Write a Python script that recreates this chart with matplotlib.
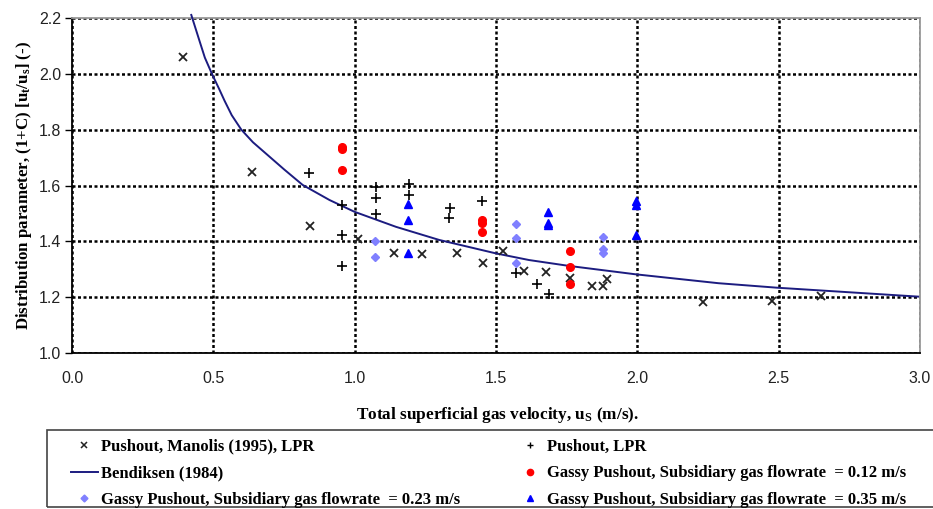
import matplotlib
matplotlib.use("Agg")
import matplotlib.pyplot as plt
from matplotlib.lines import Line2D
from matplotlib.patches import Rectangle

# ---------------- data ----------------
manolis_x = [0.393, 0.638, 0.843, 1.011, 1.140, 1.237, 1.361, 1.455, 1.525, 1.600,
             1.676, 1.763, 1.840, 1.880, 1.894, 2.232, 2.476, 2.648]
manolis_y = [2.062, 1.650, 1.456, 1.410, 1.357, 1.355, 1.360, 1.324, 1.367, 1.293,
             1.289, 1.270, 1.240, 1.240, 1.266, 1.182, 1.187, 1.205]

pushout_x = [0.838, 0.955, 0.955, 0.955, 1.075, 1.075, 1.075, 1.191, 1.191, 1.337,
             1.332, 1.450, 1.570, 1.646, 1.687]
pushout_y = [1.644, 1.529, 1.422, 1.313, 1.596, 1.556, 1.497, 1.605, 1.567, 1.520,
             1.483, 1.546, 1.288, 1.246, 1.212]

gas012_x = [0.954, 0.954, 0.954, 1.450, 1.450, 1.450, 1.763, 1.763, 1.763]
gas012_y = [1.739, 1.730, 1.655, 1.476, 1.467, 1.433, 1.367, 1.309, 1.247]

gas023_x = [1.072, 1.072, 1.570, 1.570, 1.570, 1.879, 1.879, 1.879]
gas023_y = [1.401, 1.345, 1.462, 1.411, 1.324, 1.415, 1.372, 1.360]

gas035_x = [1.187, 1.187, 1.187, 1.685, 1.685, 1.685, 1.997, 1.997, 1.997]
gas035_y = [1.534, 1.477, 1.360, 1.506, 1.467, 1.459, 1.545, 1.530, 1.422]

bend_x = [0.422, 0.452, 0.470, 0.495, 0.520, 0.540, 0.565, 0.599, 0.640, 0.699,
          0.750, 0.816, 0.911, 0.999, 1.146, 1.299, 1.499, 1.617, 1.758, 1.993,
          2.287, 2.493, 2.993]
bend_y = [2.211, 2.115, 2.058, 2.000, 1.947, 1.903, 1.852, 1.800, 1.755, 1.703,
          1.658, 1.602, 1.548, 1.506, 1.452, 1.405, 1.357, 1.333, 1.312, 1.282,
          1.250, 1.234, 1.202]

x_ticks = [0.0, 0.5, 1.0, 1.5, 2.0, 2.5, 3.0]
y_ticks = [1.0, 1.2, 1.4, 1.6, 1.8, 2.0, 2.2]

labels = ["Pushout, Manolis (1995), LPR", "Bendiksen (1984)",
          "Gassy Pushout, Subsidiary gas flowrate  = 0.23 m/s",
          "Pushout, LPR", "Gassy Pushout, Subsidiary gas flowrate  = 0.12 m/s",
          "Gassy Pushout, Subsidiary gas flowrate  = 0.35 m/s"]

# ---------------- style ----------------
plt.rcParams['mathtext.fontset'] = 'custom'
plt.rcParams['mathtext.rm'] = 'Liberation Serif'
plt.rcParams['mathtext.bf'] = 'Liberation Serif:bold'
plt.rcParams['mathtext.it'] = 'Liberation Serif:italic:bold'

W, H = 933, 509
fig = plt.figure(figsize=(W / 100, H / 100), dpi=100)
ax = fig.add_axes([72 / W, 1 - 353 / H, (920 - 72) / W, (353 - 18) / H])

col_man = '#222222'
col_red = '#ff0000'
col_lb = '#8080ff'
col_blue = '#0000ff'
col_line = '#1c1c80'

ax.plot(bend_x, bend_y, color=col_line, lw=1.4, zorder=4, clip_on=False,
        solid_joinstyle='round')
ax.plot(manolis_x, manolis_y, ls='none', marker='x', ms=5.5, mew=1.3, color=col_man, zorder=5)
ax.plot(pushout_x, pushout_y, ls='none', marker='+', ms=7.5, mew=1.2, color='black', zorder=5)
ax.plot(gas012_x, gas012_y, ls='none', marker='o', ms=5.5, color=col_red, mec=col_red, zorder=5)
ax.plot(gas023_x, gas023_y, ls='none', marker='D', ms=4.3, color=col_lb, mec=col_lb, zorder=5)
ax.plot(gas035_x, gas035_y, ls='none', marker='^', ms=6, color=col_blue, mec=col_blue, zorder=5)

ax.set_xlim(0, 3.0)
ax.set_ylim(1.0, 2.2)
ax.set_xticks(x_ticks)
ax.set_yticks(y_ticks)
ax.set_xticklabels([f"{v:.1f}" for v in x_ticks], fontfamily='Liberation Sans', fontsize=11.5)
ax.set_yticklabels([f"{v:.1f}" for v in y_ticks], fontfamily='Liberation Sans', fontsize=11.5)
ax.tick_params(axis='x', length=0, pad=13, labelcolor='#222222')
ax.tick_params(axis='y', length=5, width=1, pad=3, colors='black', labelcolor='#222222')

ax.grid(True, color='black', lw=1.8, ls=(0, (1.2, 1.0)), zorder=1)
for s in ['left', 'bottom']:
    ax.spines[s].set_color('black')
    ax.spines[s].set_linewidth(1.3)
for s in ['top', 'right']:
    ax.spines[s].set_color('#999999')
    ax.spines[s].set_linewidth(1.3)

ax.set_ylabel(r"Distribution parameter, (1+C) [$\mathbf{u_t/u_s}$] (-)",
              fontfamily='Liberation Serif', fontweight='bold', fontsize=12.2)
ax.yaxis.set_label_coords(-(72 - 34) / (920 - 72), 0.5)
ax.set_xlabel(r"Total superficial gas velocity, u$_\mathbf{S}$ (m/s).",
              fontfamily='Liberation Serif', fontweight='bold', fontsize=12.4)
ax.xaxis.set_label_coords((497 - 72) / (920 - 72), -(405 - 353) / (353 - 18))

# ---------------- legend ----------------
handles = [
    Line2D([], [], ls='none', marker='x', ms=4, mew=1.1, color=col_man),
    Line2D([], [], color=col_line, lw=1.4),
    Line2D([], [], ls='none', marker='D', ms=3.5, color=col_lb),
    Line2D([], [], ls='none', marker='+', ms=5, mew=1.0, color='black'),
    Line2D([], [], ls='none', marker='o', ms=4.5, color=col_red),
    Line2D([], [], ls='none', marker='^', ms=4.5, color=col_blue),
]
fig.patches.append(Rectangle((47 / W, 1 - 507 / H), (960 - 47) / W, (507 - 430) / H,
                             transform=fig.transFigure, fill=False,
                             edgecolor='#444444', lw=1.2))
leg = fig.legend(handles, labels, ncol=2, loc='upper left',
                 bbox_to_anchor=(71 / W, 1 - 438.5 / H), frameon=False,
                 prop={'family': 'Liberation Serif', 'weight': 'bold', 'size': 12},
                 handlelength=1.6, handletextpad=0.2, columnspacing=3.4,
                 labelspacing=0.65, borderpad=0.0, borderaxespad=0.0)

fig.savefig("out.png", dpi=100)
